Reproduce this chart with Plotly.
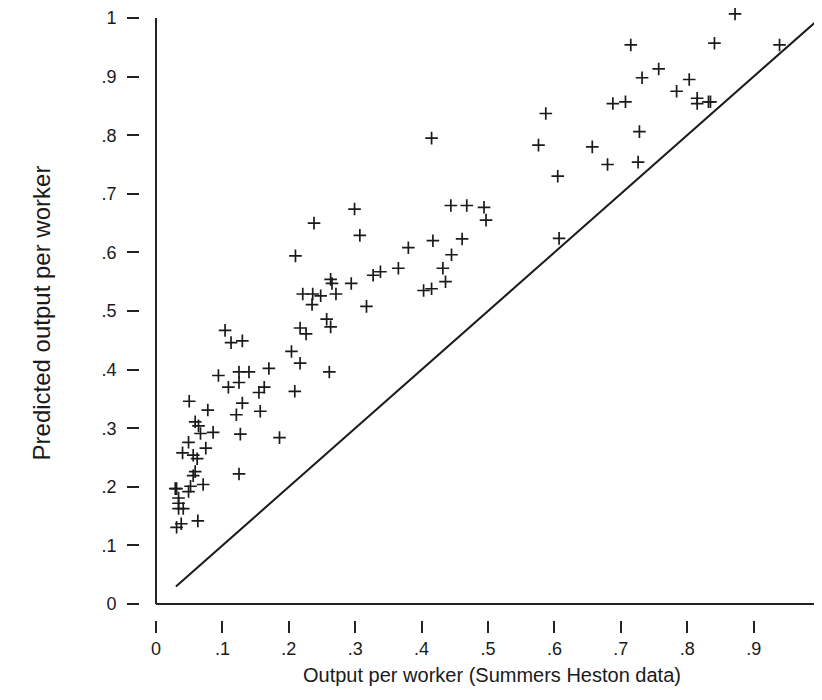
import plotly.graph_objects as go

# Output per worker (Summers-Heston data), relative to US = 1
actual = [
    0.872, 0.715, 0.841, 0.939, 0.757, 0.732, 0.803, 0.784, 0.815, 0.815,
    0.832, 0.835, 0.688, 0.707, 0.587, 0.728, 0.576, 0.657, 0.680, 0.726,
    0.605, 0.607, 0.415, 0.299, 0.307, 0.444, 0.468, 0.494, 0.497, 0.380,
    0.417, 0.461, 0.445, 0.365, 0.327, 0.338, 0.432, 0.436, 0.403, 0.415,
    0.294, 0.317, 0.238, 0.210, 0.263, 0.265, 0.271, 0.221, 0.236, 0.248,
    0.235, 0.257, 0.263, 0.217, 0.226, 0.204, 0.217, 0.261, 0.104, 0.113,
    0.130, 0.170, 0.094, 0.125, 0.140, 0.125, 0.109, 0.163, 0.155, 0.209,
    0.050, 0.130, 0.078, 0.121, 0.157, 0.059, 0.064, 0.067, 0.086, 0.127,
    0.186, 0.049, 0.040, 0.075, 0.056, 0.062, 0.059, 0.056, 0.125, 0.052,
    0.049, 0.071, 0.029, 0.031, 0.034, 0.034, 0.034, 0.041, 0.063, 0.031,
    0.038,
]
# Predicted output per worker
predicted = [
    1.007, 0.954, 0.957, 0.954, 0.913, 0.898, 0.895, 0.875, 0.863, 0.854,
    0.857, 0.857, 0.854, 0.857, 0.837, 0.806, 0.783, 0.780, 0.750, 0.754,
    0.730, 0.624, 0.795, 0.674, 0.629, 0.680, 0.680, 0.677, 0.655, 0.608,
    0.620, 0.623, 0.596, 0.573, 0.561, 0.567, 0.573, 0.550, 0.535, 0.538,
    0.547, 0.508, 0.650, 0.594, 0.554, 0.547, 0.529, 0.529, 0.529, 0.526,
    0.511, 0.486, 0.473, 0.471, 0.461, 0.431, 0.411, 0.396, 0.467, 0.446,
    0.449, 0.402, 0.390, 0.396, 0.396, 0.378, 0.370, 0.370, 0.361, 0.363,
    0.346, 0.343, 0.331, 0.323, 0.329, 0.311, 0.304, 0.291, 0.293, 0.290,
    0.284, 0.276, 0.258, 0.266, 0.254, 0.248, 0.226, 0.219, 0.222, 0.201,
    0.192, 0.204, 0.197, 0.197, 0.181, 0.172, 0.163, 0.163, 0.142, 0.131,
    0.137,
]
# 45-degree reference line
line_x = [0.03, 1.0]
line_y = [0.03, 1.0]

tick_vals = [0, 0.1, 0.2, 0.3, 0.4, 0.5, 0.6, 0.7, 0.8, 0.9, 1.0]
tick_text = ["0", ".1", ".2", ".3", ".4", ".5", ".6", ".7", ".8", ".9", "1"]

FONT = "Liberation Sans, Arial, sans-serif"
INK = "#1a1a1a"

fig = go.Figure()
fig.add_trace(go.Scatter(
    x=line_x, y=line_y, mode="lines",
    line=dict(color=INK, width=2), hoverinfo="skip", showlegend=False,
))
fig.add_trace(go.Scatter(
    x=actual, y=predicted, mode="markers",
    marker=dict(symbol="cross-thin", size=9, line=dict(color=INK, width=1.7)),
    showlegend=False, cliponaxis=False,
))

# axis lines (offset from the ticks, Stata style)
fig.add_shape(type="line", xref="x", yref="y", x0=0, y0=0, x1=0, y1=1.0,
              line=dict(color="#222222", width=2))
fig.add_shape(type="line", xref="x", yref="y", x0=0, y0=0, x1=1.015, y1=0,
              line=dict(color="#222222", width=2))

fig.update_layout(
    width=822, height=700,
    margin=dict(l=132, r=0, t=0, b=88),
    paper_bgcolor="white", plot_bgcolor="white",
    font=dict(family=FONT, color=INK, size=18),
    xaxis=dict(
        range=[-0.0241, 1.015], tickmode="array", tickvals=tick_vals, ticktext=tick_text,
        ticks="outside", ticklen=12, tickwidth=1.5, tickcolor="#222222",
        showline=False, showgrid=False, zeroline=False,
        tickfont=dict(family=FONT, size=18), ticklabelstandoff=0,
        ticklabeloverflow="allow",
    ),
    yaxis=dict(
        range=[-0.0272, 1.0119], tickmode="array", tickvals=tick_vals, ticktext=tick_text,
        ticks="outside", ticklen=12, tickwidth=1.5, tickcolor="#222222",
        showline=False, showgrid=False, zeroline=False,
        tickfont=dict(family=FONT, size=18), ticklabelstandoff=7,
        ticklabeloverflow="allow",
    ),
    annotations=[
        dict(text="Output per worker (Summers Heston data)", xref="paper", yref="paper",
             x=0.510, y=-0.0899, xanchor="center", yanchor="middle", showarrow=False,
             font=dict(family=FONT, size=20, color=INK)),
        dict(text="Predicted output per worker", xref="paper", yref="paper",
             x=-0.1435, y=0.505, xanchor="center", yanchor="middle", showarrow=False,
             textangle=-90, font=dict(family=FONT, size=24, color=INK)),
    ],
)

fig.write_html("out.html")
